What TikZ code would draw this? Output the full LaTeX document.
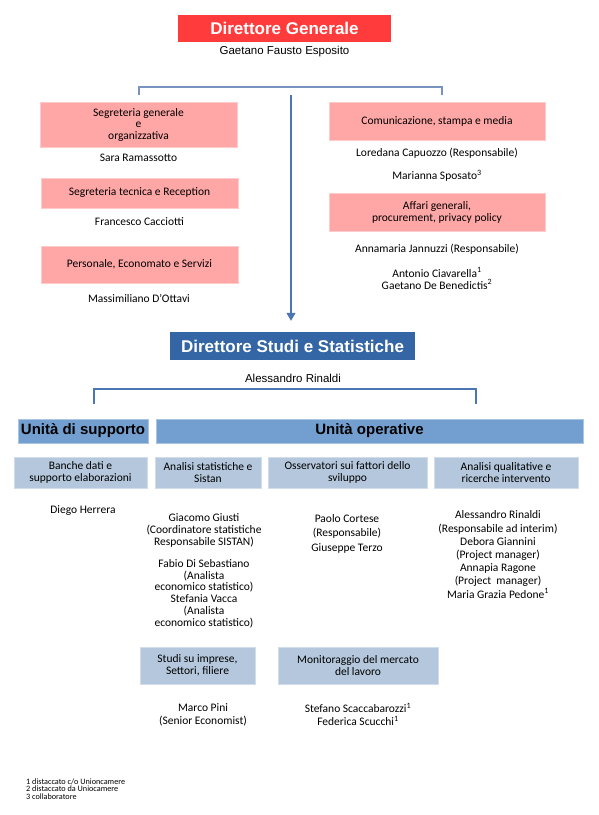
\documentclass[tikz,border=0pt]{standalone}
\usepackage{fontspec}
\setmainfont{Carlito}
\newfontfamily\arialf{Liberation Sans}
\usetikzlibrary{arrows.meta}
\definecolor{redc}{HTML}{FF3B3B}
\definecolor{pinkc}{HTML}{FFA6A6}
\definecolor{bluec}{HTML}{3465A4}
\definecolor{midblue}{HTML}{729FCF}
\definecolor{lightblue}{HTML}{B4C7DC}
\definecolor{linec}{HTML}{4A76B4}
\definecolor{linelight}{HTML}{7893C0}
\tikzset{
  body/.style={font=\fontsize{11.5}{12}\selectfont, inner sep=0pt, align=center, text=black},
  headbox/.style={font=\arialf\bfseries\fontsize{17}{19}\selectfont, text=white, inner sep=0pt},
  pinkbox/.style={body, fill=pinkc, draw=pinkc!60!white, line width=0.6pt},
  unitbox/.style={font=\arialf\bfseries\fontsize{15}{17}\selectfont, text=black, inner sep=0pt, fill=midblue, draw=midblue!60!white, line width=0.6pt},
  lightbox/.style={body, fill=lightblue, draw=lightblue!60!white, line width=0.6pt},
  dirname/.style={font=\arialf\fontsize{11.5}{13}\selectfont, inner sep=0pt},
  foot/.style={font=\fontsize{8.2}{7.4}\selectfont, inner sep=0pt, align=left, anchor=west},
}
\begin{document}
\begin{tikzpicture}[x=1pt,y=-1pt]
\useasboundingbox (0,0) rectangle (599,815);
% top
\node[headbox, fill=redc, minimum width=213pt, minimum height=27pt] (dg) at (284.5,28.5) {Direttore Generale};
\node[dirname] (dgn) at (284.5,52) {Gaetano Fausto Esposito};
% bracket 1
\coordinate (b1l) at (139,95);
\coordinate (b1r) at (442,95);
\coordinate (b1y) at (290,87);
\draw[linelight, line width=1.1pt] (b1l) -- (b1l |- b1y) -- (b1r |- b1y) -- (b1r);
% left column
\node[pinkbox, minimum width=197pt, minimum height=45pt, font=\fontsize{11.5}{11.5}\selectfont] (sg) at (138.5,124.5) {Segreteria generale\\e\\organizzativa};
\node[body] (sgn) at (138.5,158) {Sara Ramassotto};
\node[pinkbox, minimum width=197pt, minimum height=30pt] (st) at (139.5,193) {Segreteria tecnica e Reception};
\node[body] (stn) at (139.5,222) {Francesco Cacciotti};
\node[pinkbox, minimum width=197pt, minimum height=37pt] (pe) at (139.5,264.5) {Personale, Economato e Servizi};
\node[body] (pen) at (139,298) {Massimiliano D’Ottavi};
% right column
\node[pinkbox, minimum width=216pt, minimum height=38pt] (cs) at (437,121) {Comunicazione, stampa e media};
\node[body] (csn1) at (437,153) {Loredana Capuozzo (Responsabile)};
\node[body] (csn2) at (437,176) {Marianna Sposato\textsuperscript{3}};
\node[pinkbox, minimum width=216pt, minimum height=38pt] (ag) at (437,212) {Affari generali,\\procurement, privacy policy};
\node[body] (agn1) at (437,249) {Annamaria Jannuzzi (Responsabile)};
\node[body] (agn2) at (437,272.5) {Antonio Ciavarella\textsuperscript{1}};
\node[body] (agn3) at (437,284.5) {Gaetano De Benedictis\textsuperscript{2}};
% Direttore Studi
\node[headbox, fill=bluec, minimum width=245pt, minimum height=28pt] (dss) at (292.5,346) {Direttore Studi e Statistiche};
\coordinate (a0) at (291,95);
\draw[linec, line width=1.1pt, -{Triangle[width=9pt,length=8pt]}, shorten >=11pt] (a0) -- (a0 |- dss.north);
\node[dirname] (dssn) at (293,378) {Alessandro Rinaldi};
% bracket 2
\coordinate (b2l) at (94,404);
\coordinate (b2r) at (476,404);
\coordinate (b2y) at (290,389);
\draw[linec, line width=1.1pt] (b2l) -- (b2l |- b2y) -- (b2r |- b2y) -- (b2r);
% units
\node[unitbox, minimum width=130pt, minimum height=24pt] (us) at (83,431) {Unità di supporto};
\node[unitbox, minimum width=427pt, minimum height=24pt] (uo) at (369.5,431) {Unità operative};
\node[lightbox, minimum width=133pt, minimum height=31pt] (bd) at (80.5,472.5) {Banche dati e\\supporto elaborazioni};
\node[lightbox, minimum width=106pt, minimum height=31pt] (as) at (208,472.5) {Analisi statistiche e\\Sistan};
\node[lightbox, minimum width=159pt, minimum height=31pt] (os) at (347.5,472.5) {Osservatori sui fattori dello\\sviluppo};
\node[lightbox, minimum width=144pt, minimum height=31pt] (aq) at (506,472.5) {Analisi qualitative e\\ricerche intervento};
% names
\node[body] (bdn) at (83,511) {Diego Herrera};
\node[body] (asn1) at (204,530) {Giacomo Giusti\\(Coordinatore statistiche\\Responsabile SISTAN)};
\node[body, font=\fontsize{11.5}{11.8}\selectfont] (asn2) at (204,593.5) {Fabio Di Sebastiano\\(Analista\\economico statistico)\\Stefania Vacca\\(Analista\\economico statistico)};
\node[body, font=\fontsize{11.5}{14.5}\selectfont] (osn) at (347,533.5) {Paolo Cortese\\(Responsabile)\\Giuseppe Terzo};
\node[body, font=\fontsize{11.5}{13.2}\selectfont] (aqn) at (498,554.5) {Alessandro Rinaldi\\(Responsabile ad interim)\\Debora Giannini\\(Project manager)\\Annapia Ragone\\(Project\ \ manager)\\Maria Grazia Pedone\textsuperscript{1}};
% bottom row
\node[lightbox, minimum width=115pt, minimum height=37pt] (si) at (197.5,665.5) {Studi su imprese,\\Settori, filiere};
\node[lightbox, minimum width=160pt, minimum height=37pt] (mm) at (358,665.5) {Monitoraggio del mercato\\del lavoro};
\node[body, font=\fontsize{11.5}{13}\selectfont] (sin) at (203,714.5) {Marco Pini\\(Senior Economist)};
\node[body, font=\fontsize{11.5}{13}\selectfont] (mmn) at (358,714.5) {Stefano Scaccabarozzi\textsuperscript{1}\\Federica Scucchi\textsuperscript{1}};
% footnotes
\node[foot] (fn) at (26,789) {1 distaccato c/o Unioncamere\\2 distaccato da Uniocamere\\3 collaboratore};
\end{tikzpicture}
\end{document}
